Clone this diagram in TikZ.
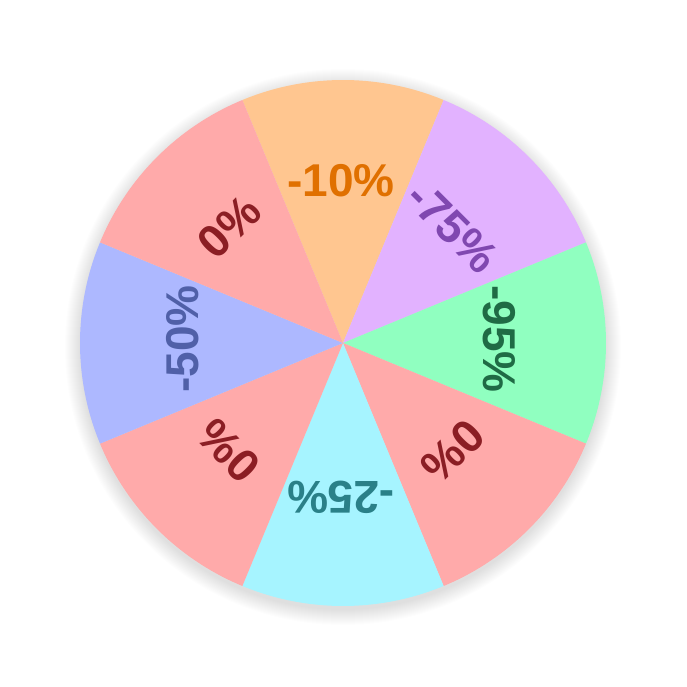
\documentclass[tikz,border=0pt]{standalone}
\usepackage{fontspec}
\setmainfont{Liberation Sans}
\definecolor{orfill}{HTML}{FFC690}
\definecolor{ortext}{HTML}{E07000}
\definecolor{pufill}{HTML}{E2B2FF}
\definecolor{putext}{HTML}{8048B0}
\definecolor{grfill}{HTML}{90FFC0}
\definecolor{grtext}{HTML}{1F6B45}
\definecolor{pkfill}{HTML}{FFAAAA}
\definecolor{pktext}{HTML}{8B1E24}
\definecolor{cyfill}{HTML}{A6F4FF}
\definecolor{cytext}{HTML}{2A8088}
\definecolor{blfill}{HTML}{ADB8FF}
\definecolor{bltext}{HTML}{5060A8}

\begin{document}
\begin{tikzpicture}[x=1pt,y=1pt,
  lbl/.style={font=\fontsize{46}{50}\selectfont\bfseries,inner sep=0pt}]
\useasboundingbox (-343,-344) rectangle (344,343);
% soft shadow
\foreach \r in {1,...,16}{
  \fill[black,opacity=0.008] (0,-4) circle ({262+\r});
}
% sectors
\foreach \a/\c in {90/orfill,45/pufill,0/grfill,-45/pkfill,-90/cyfill,-135/pkfill,180/blfill,135/pkfill}{
  \fill[\c] (0,0) -- ({\a-22.5}:263) arc[start angle=\a-22.5,end angle=\a+22.5,radius=263] -- cycle;
}
% labels
\begin{scope}[xshift=-2pt,yshift=4pt]
\foreach \a/\t/\c [count=\i] in {90/-10\%/ortext,45/-75\%/putext,0/-95\%/grtext,-45/0\%/pktext,-90/-25\%/cytext,-135/0\%/pktext,180/-50\%/bltext,135/0\%/pktext}{
  \node[lbl,text=\c,rotate=\a-90] (l\i) at (\a:158) {\t};
}
\end{scope}
\end{tikzpicture}
\end{document}
